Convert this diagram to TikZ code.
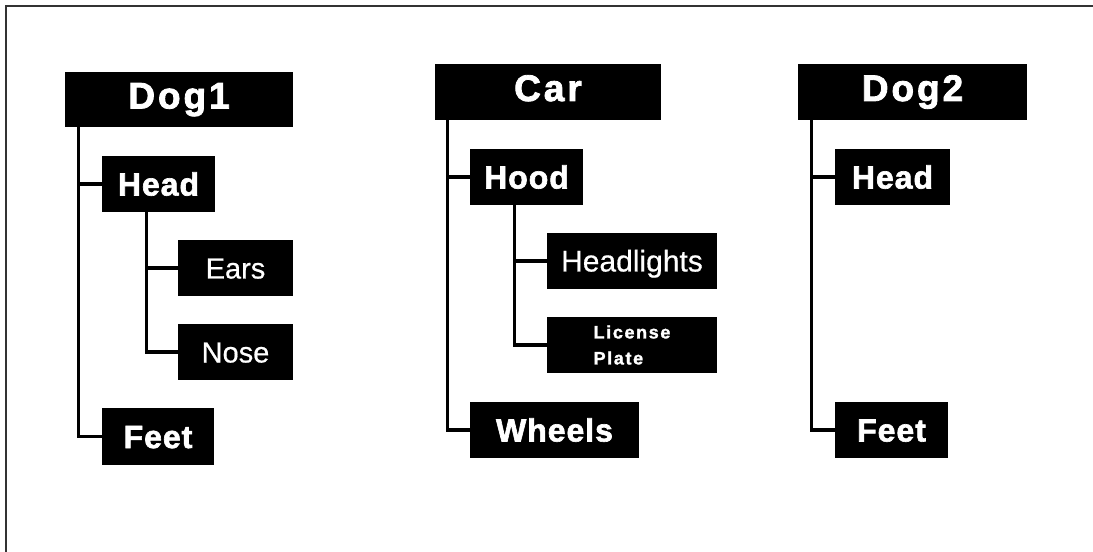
\documentclass[tikz,border=0pt]{standalone}
\usepackage{fontspec}
\setmainfont{Liberation Sans}
\newfontface\hfont[LetterSpace=8,FakeBold=2.2]{Liberation Sans Bold}
\newfontface\mfont[LetterSpace=3,FakeBold=2]{Liberation Sans Bold}
\newfontface\sfont[LetterSpace=9,FakeBold=1.5]{Liberation Sans Bold}
\newfontface\lfont[FakeBold=0.6]{Liberation Sans}
\begin{document}
\begin{tikzpicture}[x=1bp,y=-1bp,
  box/.style={fill=black, text=white, inner sep=0pt, anchor=center},
  topbox/.style={box, font=\hfont\fontsize{37bp}{40bp}\selectfont, text height=26bp, text depth=8bp},
  midbox/.style={box, font=\mfont\fontsize{32bp}{36bp}\selectfont, text height=23bp, text depth=0pt},
  leafbox/.style={box, font=\lfont\fontsize{29bp}{32bp}\selectfont, text height=21bp, text depth=0pt},
  link/.style={line width=3.2bp, black}]
\fill[white] (0,0) rectangle (1093,552);
\useasboundingbox (0,0) rectangle (1093,552);
\draw[line width=2bp, black!80] (6,552) -- (6,6) -- (1093,6);

% Dog1
\node[topbox, minimum width=228bp, minimum height=55bp] (dog1) at (179,99.5) {Dog1};
\node[midbox, minimum width=113bp, minimum height=56bp] (head1) at (158.5,184) {Head};
\node[leafbox, minimum width=115bp, minimum height=56bp] (ears) at (235.5,268) {Ears};
\node[leafbox, minimum width=115bp, minimum height=56bp] (nose) at (235.5,352) {Nose};
\node[midbox, minimum width=112bp, minimum height=57bp] (feet1) at (158,436.5) {Feet};

% Car
\node[topbox, minimum width=226bp, minimum height=56bp] (car) at (548,92) {Car};
\node[midbox, minimum width=113bp, minimum height=56bp] (hood) at (526.5,177) {Hood};
\node[leafbox, font=\lfont\fontsize{30bp}{32bp}\selectfont, minimum width=170bp, minimum height=56bp] (headl) at (632,261) {Headlights};
\node[box, font=\sfont\fontsize{18bp}{26bp}\selectfont, align=left, minimum width=170bp, minimum height=56bp] (plate) at (632,345) {License\\Plate};
\node[midbox, minimum width=169bp, minimum height=56bp] (wheels) at (554.5,430) {Wheels};

% Dog2
\node[topbox, minimum width=229bp, minimum height=56bp] (dog2) at (912.5,92) {Dog2};
\node[midbox, minimum width=115bp, minimum height=56bp] (head2) at (892.5,177) {Head};
\node[midbox, minimum width=113bp, minimum height=56bp] (feet2) at (891.5,430) {Feet};

% connectors
\draw[link] ([xshift=14bp]dog1.south west) |- (head1.west);
\draw[link] ([xshift=14bp]dog1.south west) |- (feet1.west);
\draw[link] ([xshift=45bp]head1.south west) |- (ears.west);
\draw[link] ([xshift=45bp]head1.south west) |- (nose.west);

\draw[link] ([xshift=13bp]car.south west) |- (hood.west);
\draw[link] ([xshift=13bp]car.south west) |- (wheels.west);
\draw[link] ([xshift=45bp]hood.south west) |- (headl.west);
\draw[link] ([xshift=45bp]hood.south west) |- (plate.west);

\draw[link] ([xshift=14bp]dog2.south west) |- (head2.west);
\draw[link] ([xshift=14bp]dog2.south west) |- (feet2.west);
\end{tikzpicture}
\end{document}
